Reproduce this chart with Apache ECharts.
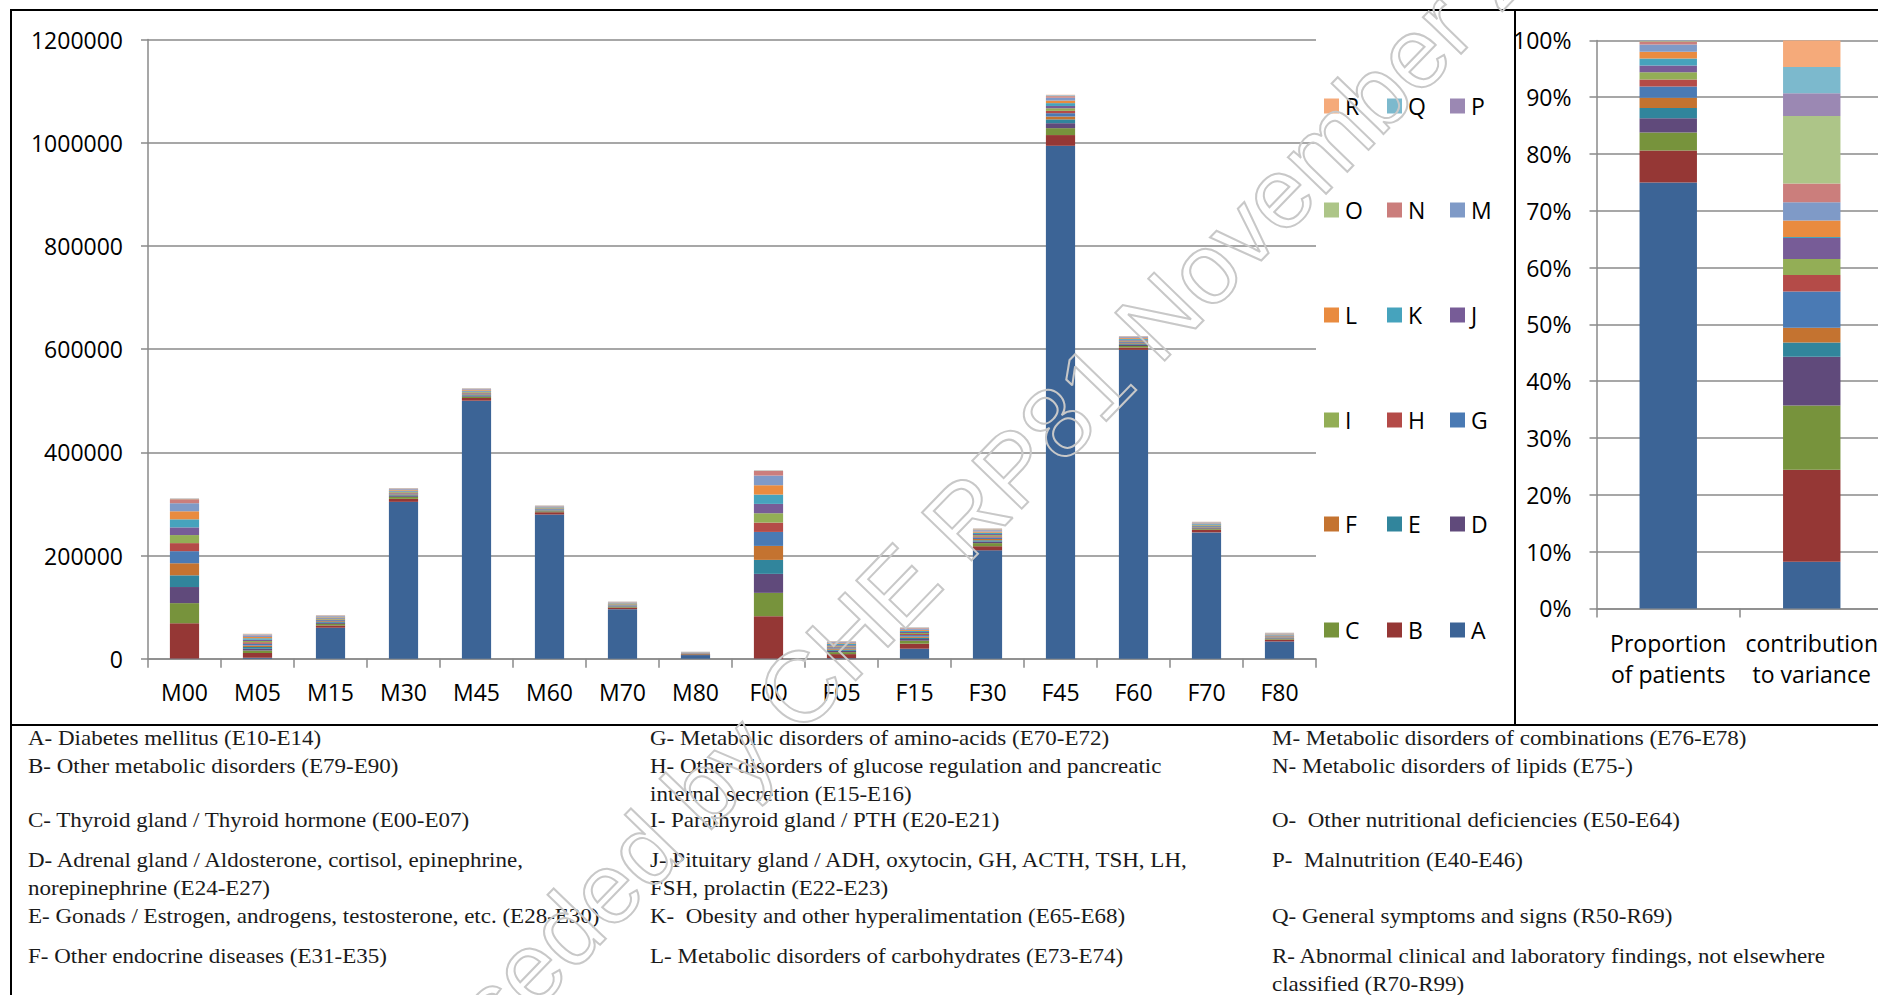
<!DOCTYPE html>
<html>
<head>
<meta charset="utf-8">
<script src="https://cdn.jsdelivr.net/npm/echarts/dist/echarts.min.js"></script>
<style>
html,body{margin:0;padding:0;background:#fff;}
#chart{width:1878px;height:995px;}
</style>
</head>
<body>
<div id="chart"></div>
<script>
// ---------------- DATA ----------------
const categories = ['M00','M05','M15','M30','M45','M60','M70','M80','F00','F05','F15','F30','F45','F60','F70','F80'];
const seriesNames = ['A','B','C','D','E','F','G','H','I','J','K','L','M','N','O','P','Q','R'];
//            M00    M05    M15     M30     M45     M60    M70   M80    F00   F05    F15     F30     F45     F60     F70    F80
const A = [   500,  2000, 60000, 304000, 500000, 279400, 96000, 7000,   500, 1000, 19400, 210000, 994000, 598600, 244800, 33400];
const B = [ 68200,  9000,  4500,   5800,   5200,   4500,  3200, 1500, 81900, 7900,  9700,   8000,  20800,   4500,   5200,  3700];
const C = [ 39000,  5000,  3000,   3900,   2600,   1800,  1600,  600, 45200, 3900,  5800,   6000,  13400,   2900,   2100,  1700];
const D = [ 31200,  3500,  2200,   1600,   1600,   1100,   900,  400, 36800, 2500,  3300,   3000,   9600,   2000,   1300,  1000];
const E = [ 22700,  3300,  1500,   1500,   1400,    900,   700,  300, 27100, 2200,  2300,   2500,   7400,   1600,   1000,   800];
const F = [ 23400,  2800,  1500,   1600,   1500,   1000,   800,  300, 27100, 2200,  2300,   2500,   5500,   1700,   1100,   900];
const G = [ 23400,  3500,  2000,   1800,   1800,   1300,  1100,  500, 27100, 2400,  3000,   3000,   6500,   2100,   1500,  1200];
const H = [ 15600,  2600,  1200,   1300,   1300,    900,   800,  300, 18100, 1500,  2000,   2200,   4500,   1500,   1000,   900];
const I = [ 15600,  2600,  1300,   1400,   1300,    900,   800,  400, 18100, 1500,  2000,   2300,   5000,   1600,   1100,  1000];
const J = [ 14900,  2600,  1200,   1200,   1200,    800,   700,  300, 18100, 1400,  1900,   2100,   4500,   1400,    900,   800];
const K = [ 15600,  2700,  1500,   1600,   1500,   1000,   900,  400, 18100, 2000,  2200,   2600,   5500,   1800,   1200,  1100];
const L = [ 15600,  2600,  1300,   1300,   1300,    900,   800,  300, 18100, 1500,  2000,   2300,   5000,   1600,   1000,   900];
const M = [ 15600,  2700,  1400,   1500,   1400,   1000,   900,  400, 18700, 2000,  2200,   2500,   5500,   1800,   1200,  1100];
const N = [  7800,  1600,   800,   1000,    900,    600,   500,  200,  9000,  900,  1200,   1400,   3000,   1000,    700,   600];
const O = [   600,   600,   300,    400,    400,    300,   300,  200,   500,  400,   500,    700,    900,    400,    400,   400];
const P = [   400,   400,   200,    300,    300,    200,   300,  200,   300,  300,   400,    500,    700,    300,    300,   300];
const Q = [   400,   400,   200,    300,    300,    200,   200,  100,   300,  300,   400,    500,    600,    300,    300,   300];
const R = [   300,   300,   200,    300,    300,    200,   200,  100,   200,  300,   300,    500,    500,    300,    300,   300];

// right panel (100% stacked), values in percent, order A..R
const shareCategories = ['Proportion\nof patients', 'contribution\nto variance'];
const proportionOfPatients   = [75.0, 5.6, 3.2, 2.5, 1.8, 1.8, 2.0, 1.2, 1.3, 1.2, 1.2, 1.2, 1.3, 0.5, 0.08, 0.05, 0.04, 0.03];
const contributionToVariance = [ 8.2,16.2,11.3, 8.6, 2.5, 2.6, 6.4, 2.9, 2.8, 3.7, 0.2, 2.9, 3.2, 3.3, 11.9,  4.0,  4.6,  4.7];

// footnote texts (rows x columns)
const footnotesCol1 = [
  'A- Diabetes mellitus (E10-E14)',
  'B- Other metabolic disorders (E79-E90)',
  'C- Thyroid gland / Thyroid hormone (E00-E07)',
  'D- Adrenal gland / Aldosterone, cortisol, epinephrine,\nnorepinephrine (E24-E27)',
  'E- Gonads / Estrogen, androgens, testosterone, etc. (E28-E30)',
  'F- Other endocrine diseases (E31-E35)'
];
const footnotesCol2 = [
  'G- Metabolic disorders of amino-acids (E70-E72)',
  'H- Other disorders of glucose regulation and pancreatic\ninternal secretion (E15-E16)',
  'I- Parathyroid gland / PTH (E20-E21)',
  'J- Pituitary gland / ADH, oxytocin, GH, ACTH, TSH, LH,\nFSH, prolactin (E22-E23)',
  'K-  Obesity and other hyperalimentation (E65-E68)',
  'L- Metabolic disorders of carbohydrates (E73-E74)'
];
const footnotesCol3 = [
  'M- Metabolic disorders of combinations (E76-E78)',
  'N- Metabolic disorders of lipids (E75-)',
  'O-  Other nutritional deficiencies (E50-E64)',
  'P-  Malnutrition (E40-E46)',
  'Q- General symptoms and signs (R50-R69)',
  'R- Abnormal clinical and laboratory findings, not elsewhere\nclassified (R70-R99)'
];
const watermarkText = 'Superseded by CHE RP81 November 2012';

// ---------------- STYLE / LAYOUT ----------------
const leftData = [A,B,C,D,E,F,G,H,I,J,K,L,M,N,O,P,Q,R];
const colors = ['#3c6496','#953735','#77933c','#604a7b','#31859c','#c47330',
                '#4a7ab4','#b44b48','#93ae56','#775c97','#46a3bd','#e98b3f',
                '#7f9ac7','#cb7e7c','#adc588','#9b88b3','#7cb9cd','#f5aa7a'];
const FONT = '"Open Sans", sans-serif';
const GRAY = '#8a8a8a';

const chart = echarts.init(document.getElementById('chart'), null, {renderer:'svg', width:1878, height:995});

const series = [];
seriesNames.forEach((n,i)=>{
  series.push({name:n, type:'bar', stack:'left', xAxisIndex:0, yAxisIndex:0,
    data:leftData[i], barWidth:'40%', itemStyle:{color:colors[i]}, emphasis:{disabled:true}});
  series.push({name:n, type:'bar', stack:'right', xAxisIndex:1, yAxisIndex:1,
    data:[proportionOfPatients[i], contributionToVariance[i]], barWidth:'40%',
    itemStyle:{color:colors[i]}, emphasis:{disabled:true}});
});

// legend: 3 columns x 6 rows, top row R Q P ... bottom row C B A
const legendColX = [1324, 1387, 1450];
const legendRowY = [106, 210, 315, 420, 524, 630];
const legends = [];
for (let r=0;r<6;r++) for (let c=0;c<3;c++) {
  const idx = 17 - (r*3 + c);
  legends.push({data:[seriesNames[idx]], left:legendColX[c], top:legendRowY[r]-12,
    orient:'horizontal', padding:0, itemGap:0, itemWidth:15, itemHeight:15, icon:'rect',
    selectedMode:false,
    textStyle:{fontFamily:FONT, fontSize:23, color:'#000', lineHeight:24, padding:[0,0,0,1]}});
}

// graphic: frame lines, footnotes, watermark
const graphic = [];
const lineStyle = {stroke:'#000', lineWidth:2};
graphic.push({type:'line', shape:{x1:11,y1:10,x2:1878,y2:10}, style:lineStyle, silent:true});
graphic.push({type:'line', shape:{x1:11,y1:9,x2:11,y2:995}, style:lineStyle, silent:true});
graphic.push({type:'line', shape:{x1:1515,y1:10,x2:1515,y2:725}, style:lineStyle, silent:true});
graphic.push({type:'line', shape:{x1:11,y1:725,x2:1878,y2:725}, style:lineStyle, silent:true});

const fnRowY = [739, 767, 821, 861, 917, 957];
const fnColX = [28, 650, 1272];
const fnLH = 27.5;
[footnotesCol1, footnotesCol2, footnotesCol3].forEach((col, ci)=>{
  col.forEach((t, ri)=>{
    graphic.push({type:'text', x:fnColX[ci], y:fnRowY[ri]-fnLH/2, scaleX:1.15, silent:true,
      style:{text:t, x:0, y:0, font:'20px "Liberation Serif", serif', fill:'#1a1a1a',
             textAlign:'left', textVerticalAlign:'top', lineHeight:fnLH}});
  });
});

graphic.push({type:'text', x:958, y:524, rotation:46*Math.PI/180, z:100, silent:true,
  style:{text:watermarkText, font:'100px "Liberation Sans", sans-serif', fill:'rgba(0,0,0,0)',
         stroke:'#c8c8c8', lineWidth:2, textAlign:'center', textVerticalAlign:'middle'}});

const option = {
  animation:false,
  backgroundColor:'#fff',
  textStyle:{fontFamily:FONT},
  legend:legends,
  grid:[
    {left:148, top:39.5, width:1168, height:619.2, containLabel:false, outerBoundsMode:'none'},
    {left:1596.5, top:40.4, width:287, height:568, containLabel:false, outerBoundsMode:'none'}
  ],
  xAxis:[
    {type:'category', gridIndex:0, data:categories,
     axisLine:{show:true, lineStyle:{color:GRAY, width:1.5}},
     axisTick:{show:true, length:9, lineStyle:{color:GRAY, width:1.5}},
     axisLabel:{fontFamily:FONT, fontSize:23, color:'#000', margin:18, lineHeight:31, interval:0},
     splitLine:{show:false}},
    {type:'category', gridIndex:1, data:shareCategories,
     axisLine:{show:true, lineStyle:{color:GRAY, width:1.5}},
     axisTick:{show:true, length:9, lineStyle:{color:GRAY, width:1.5}},
     axisLabel:{fontFamily:FONT, fontSize:23, color:'#000', margin:19, lineHeight:31, interval:0},
     splitLine:{show:false}}
  ],
  yAxis:[
    {type:'value', gridIndex:0, min:0, max:1200000, interval:200000,
     axisLine:{show:true, lineStyle:{color:GRAY, width:1.5}},
     axisTick:{show:true, length:7, lineStyle:{color:GRAY, width:1.5}},
     axisLabel:{fontFamily:FONT, fontSize:23, color:'#000', margin:25, formatter:(v)=>String(v)},
     splitLine:{show:true, lineStyle:{color:GRAY, width:1.5}}},
    {type:'value', gridIndex:1, min:0, max:100, interval:10,
     axisLine:{show:true, lineStyle:{color:GRAY, width:1.5}},
     axisTick:{show:true, length:7, lineStyle:{color:GRAY, width:1.5}},
     axisLabel:{fontFamily:FONT, fontSize:23, color:'#000', margin:25, formatter:'{value}%'},
     splitLine:{show:true, lineStyle:{color:GRAY, width:1.5}}}
  ],
  series:series,
  graphic:graphic
};
chart.setOption(option);
</script>
</body>
</html>
